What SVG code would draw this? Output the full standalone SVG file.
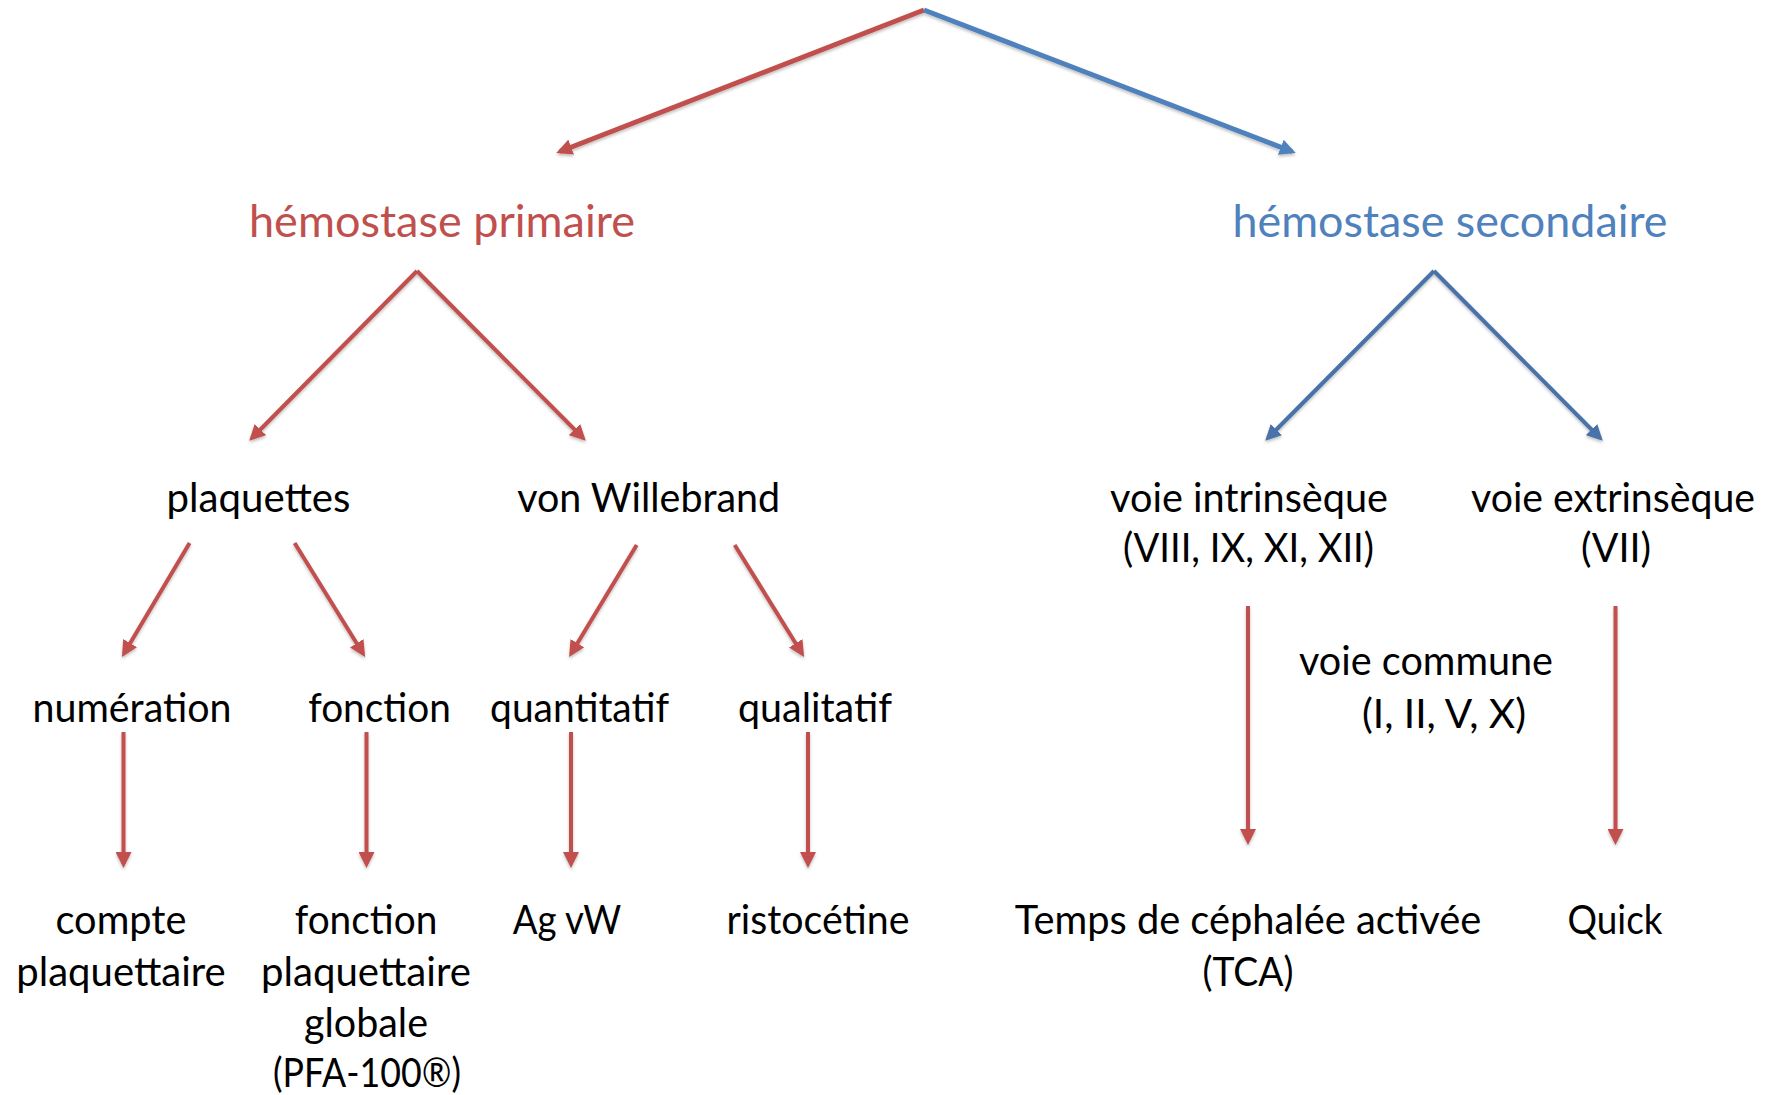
<svg xmlns="http://www.w3.org/2000/svg" width="1766" height="1095" viewBox="0 0 1766 1095">
<style>
  text { font-family: Lato, "Open Sans", "Liberation Sans", sans-serif; text-anchor: middle; }
  .lbl { font-size: 40px; fill: #000; }
  .head { font-size: 44px; }
  .red { stroke: #C0504D; fill: none; }
  .blue1 { stroke: #4F81BD; fill: none; }
  .blue2 { stroke: #4A72A8; fill: none; }
</style>
<defs>
  <filter id="sh" x="-20%" y="-20%" width="140%" height="140%">
    <feDropShadow dx="0" dy="2" stdDeviation="1.5" flood-color="#000" flood-opacity="0.25"/>
  </filter>
  <marker id="ahR" markerUnits="userSpaceOnUse" markerWidth="16" markerHeight="16" viewBox="0 0 16 16" refX="12" refY="8" orient="auto">
    <path d="M0,0 L16,8 L0,16 z" fill="#C0504D"/>
  </marker>
  <marker id="ahB1" markerUnits="userSpaceOnUse" markerWidth="16" markerHeight="16" viewBox="0 0 16 16" refX="12" refY="8" orient="auto">
    <path d="M0,0 L16,8 L0,16 z" fill="#4F81BD"/>
  </marker>
  <marker id="ahB2" markerUnits="userSpaceOnUse" markerWidth="16" markerHeight="16" viewBox="0 0 16 16" refX="12" refY="8" orient="auto">
    <path d="M0,0 L16,8 L0,16 z" fill="#4A72A8"/>
  </marker>
</defs>
<rect width="1766" height="1095" fill="#fff"/>

<g id="connectors" filter="url(#sh)">
  <line class="red" stroke-width="5" x1="924" y1="10" x2="560" y2="151.5" marker-end="url(#ahR)"/>
  <line class="blue1" stroke-width="5" x1="924" y1="10" x2="1292" y2="151.5" marker-end="url(#ahB1)"/>

  <line class="red" stroke-width="4" x1="417" y1="271" x2="252" y2="438" marker-end="url(#ahR)"/>
  <line class="red" stroke-width="4" x1="417" y1="271" x2="583" y2="438" marker-end="url(#ahR)"/>

  <line class="blue2" stroke-width="4" x1="1434" y1="271" x2="1268" y2="438" marker-end="url(#ahB2)"/>
  <line class="blue2" stroke-width="4" x1="1434" y1="271" x2="1600" y2="438" marker-end="url(#ahB2)"/>

  <line class="red" stroke-width="4" x1="189.6" y1="543" x2="124" y2="653.5" marker-end="url(#ahR)"/>
  <line class="red" stroke-width="4" x1="294.6" y1="543" x2="363" y2="653.5" marker-end="url(#ahR)"/>
  <line class="red" stroke-width="4" x1="636.7" y1="545" x2="571.2" y2="653.5" marker-end="url(#ahR)"/>
  <line class="red" stroke-width="4" x1="734.7" y1="545" x2="802" y2="653.5" marker-end="url(#ahR)"/>

  <line class="red" stroke-width="4" x1="123.5" y1="732" x2="123.5" y2="864" marker-end="url(#ahR)"/>
  <line class="red" stroke-width="4" x1="366.5" y1="732" x2="366.5" y2="864" marker-end="url(#ahR)"/>
  <line class="red" stroke-width="4" x1="571" y1="732" x2="571" y2="864" marker-end="url(#ahR)"/>
  <line class="red" stroke-width="4" x1="808" y1="732" x2="808" y2="864" marker-end="url(#ahR)"/>

  <line class="red" stroke-width="4" x1="1248" y1="606" x2="1248" y2="841" marker-end="url(#ahR)"/>
  <line class="red" stroke-width="4" x1="1615.5" y1="606" x2="1615.5" y2="841" marker-end="url(#ahR)"/>
</g>

<g id="n-primaire"><text class="head" fill="#C0504D" x="442" y="237" textLength="386" lengthAdjust="spacingAndGlyphs">hémostase primaire</text></g>
<g id="n-secondaire"><text class="head" fill="#4F81BD" x="1450" y="237" textLength="435" lengthAdjust="spacingAndGlyphs">hémostase secondaire</text></g>

<g id="n-plaquettes"><text class="lbl" x="258.5" y="511.5" textLength="184" lengthAdjust="spacingAndGlyphs">plaquettes</text></g>
<g id="n-vonwillebrand"><text class="lbl" x="648.7" y="511.5" textLength="263" lengthAdjust="spacingAndGlyphs">von Willebrand</text></g>
<g id="n-intrinseque">
  <text class="lbl" x="1249" y="511.5" textLength="278" lengthAdjust="spacingAndGlyphs">voie intrinsèque</text>
  <text class="lbl" x="1248.5" y="561.5" textLength="251" lengthAdjust="spacingAndGlyphs">(VIII, IX, XI, XII)</text>
</g>
<g id="n-extrinseque">
  <text class="lbl" x="1613" y="511.5" textLength="284" lengthAdjust="spacingAndGlyphs">voie extrinsèque</text>
  <text class="lbl" x="1616" y="561.5" textLength="70" lengthAdjust="spacingAndGlyphs">(VII)</text>
</g>

<g id="n-numeration"><text class="lbl" x="132" y="721.5" textLength="199" lengthAdjust="spacingAndGlyphs">numération</text></g>
<g id="n-fonction"><text class="lbl" x="379.5" y="721.5" textLength="142.6" lengthAdjust="spacingAndGlyphs">fonction</text></g>
<g id="n-quantitatif"><text class="lbl" x="579.6" y="721.5" textLength="179" lengthAdjust="spacingAndGlyphs">quantitatif</text></g>
<g id="n-qualitatif"><text class="lbl" x="815" y="721.5" textLength="154" lengthAdjust="spacingAndGlyphs">qualitatif</text></g>
<g id="n-commune">
  <text class="lbl" x="1426" y="675" textLength="254" lengthAdjust="spacingAndGlyphs">voie commune</text>
  <text class="lbl" x="1444" y="728" textLength="164" lengthAdjust="spacingAndGlyphs">(I, II, V, X)</text>
</g>

<g id="n-compte">
  <text class="lbl" x="121" y="934" textLength="131" lengthAdjust="spacingAndGlyphs">compte</text>
  <text class="lbl" x="121" y="985.5" textLength="209.5" lengthAdjust="spacingAndGlyphs">plaquettaire</text>
</g>
<g id="n-pfa">
  <text class="lbl" x="366" y="934" textLength="142.6" lengthAdjust="spacingAndGlyphs">fonction</text>
  <text class="lbl" x="366" y="985.5" textLength="210" lengthAdjust="spacingAndGlyphs">plaquettaire</text>
  <text class="lbl" x="366" y="1036.5" textLength="124" lengthAdjust="spacingAndGlyphs">globale</text>
  <text class="lbl" x="367" y="1087" textLength="188" lengthAdjust="spacingAndGlyphs">(PFA-100®)</text>
</g>
<g id="n-agvw"><text class="lbl" x="567" y="934" textLength="108.6" lengthAdjust="spacingAndGlyphs">Ag vW</text></g>
<g id="n-ristocetine"><text class="lbl" x="818" y="934" textLength="183" lengthAdjust="spacingAndGlyphs">ristocétine</text></g>
<g id="n-tca">
  <text class="lbl" x="1248" y="934" textLength="466.5" lengthAdjust="spacingAndGlyphs">Temps de céphalée activée</text>
  <text class="lbl" x="1248" y="985.5" textLength="91" lengthAdjust="spacingAndGlyphs">(TCA)</text>
</g>
<g id="n-quick"><text class="lbl" x="1615" y="934" textLength="95" lengthAdjust="spacingAndGlyphs">Quick</text></g>
</svg>
